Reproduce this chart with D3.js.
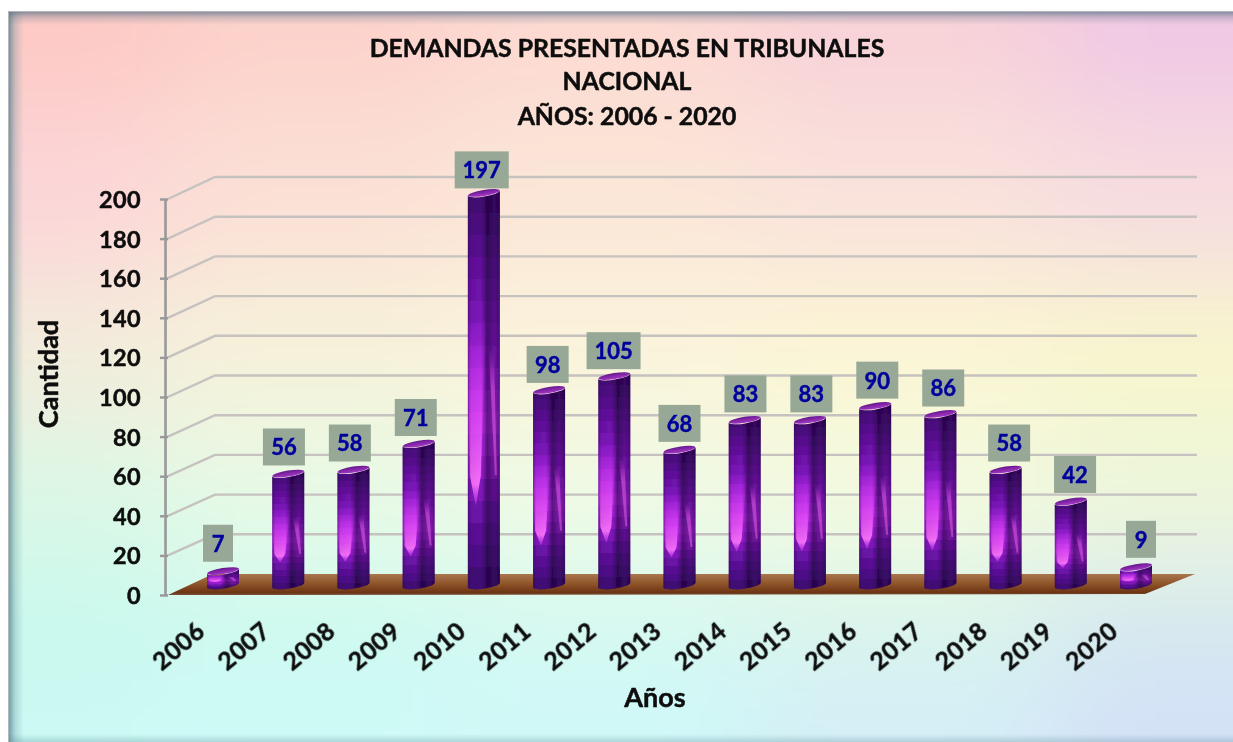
<!DOCTYPE html>
<html lang="es">
<head>
<meta charset="utf-8">
<title>Demandas presentadas en tribunales</title>
<script src="https://cdn.jsdelivr.net/npm/d3@7/dist/d3.min.js"></script>
<style>
html,body{margin:0;padding:0;background:#fff;overflow:hidden}
svg{display:block}
text{font-family:Lato,"Open Sans",sans-serif;font-weight:700;fill:#0a0a0a;stroke:#0a0a0a;stroke-width:.45px}
</style>
</head>
<body>
<div id="chart"></div>
<script>
// ---- data ----
const years = ["2006","2007","2008","2009","2010","2011","2012","2013","2014","2015","2016","2017","2018","2019","2020"];
const demandas = [7,56,58,71,197,98,105,68,83,83,90,86,58,42,9];
const yTicks = [0,20,40,60,80,100,120,140,160,180,200];
const titleLines = ["DEMANDAS PRESENTADAS EN TRIBUNALES","NACIONAL","AÑOS: 2006 -  2020"];
const yTitle = "Cantidad";
const xTitle = "Años";

// ---- style tables ----
const bgRows = [
  ["#fdc9c4","#fcd2cb","#fcd9d2","#f8d2d8","#f0c8e4"],
  ["#fcd6d8","#fbe0d6","#fbe6d8","#f9e2dc","#f6dce0"],
  ["#f2ecdc","#f6f2da","#fbf4dc","#fbf6d4","#f8f6cc"],
  ["#daf8e6","#e6fae6","#eefae4","#f2fae0","#ecf6dc"],
  ["#c8f9ee","#ccf9f0","#d4f9f2","#d8f4ec","#d4e8f0"],
  ["#ccf9f4","#cffaf8","#cff8f8","#d4eef8","#d4e0f8"]
];
const bandColors = ["#440a74","#4c0c80","#560e8e","#62109c","#6e12aa","#7a15b8","#8618c6","#941cd4","#a220e0","#b026ea","#bc2cf0","#ae24e4","#9a1ed2","#8018bc","#6a13a8","#5a1096","#4e0e88","#420b76"];

const W = 1233, H = 742;
const svg = d3.select("#chart").append("svg").attr("width",W).attr("height",H);
const defs = svg.append("defs");

// scales
const x = d3.scalePoint().domain(years).range([223,1136]);
const xLabel = d3.scalePoint().domain(years).range([218,1141]);
const yFront = d3.scaleLinear().domain([0,200]).range([595,199]);
const yBack = d3.scaleLinear().domain([0,200]).range([574,177]);
const yBar = d3.scaleLinear().domain([0,200]).range([585,187]);
const yLabel = d3.scaleLinear().domain([0,200]).range([557,164]);
const barR = 16, tilt = 2.6;

// background
defs.append("filter").attr("id","bgBlur").attr("x","-20%").attr("y","-20%").attr("width","140%").attr("height","140%")
  .append("feGaussianBlur").attr("stdDeviation",55);
defs.append("clipPath").attr("id","panel").append("rect").attr("x",8).attr("y",11).attr("width",W).attr("height",H);
const bgG = svg.append("g").attr("clip-path","url(#panel)").append("g").attr("filter","url(#bgBlur)");
const rowEdges = [-200,110,280,430,570,680,1000];
const colEdges = [-200,170,450,750,1050,1500];
bgRows.forEach((row,r)=>row.forEach((c,i)=>{
  bgG.append("rect").attr("x",colEdges[i]).attr("y",rowEdges[r])
    .attr("width",colEdges[i+1]-colEdges[i]+1).attr("height",rowEdges[r+1]-rowEdges[r]+1).attr("fill",c);
}));

// panel inner shadow
function lin(id,x2,y2,stops){
  const g = defs.append("linearGradient").attr("id",id).attr("x1",0).attr("y1",0).attr("x2",x2).attr("y2",y2);
  stops.forEach(s=>g.append("stop").attr("offset",s[0]).attr("stop-color",s[1]).attr("stop-opacity",s[2]===undefined?1:s[2]));
}
lin("shL",1,0,[[0,"#3a6f80",.72],[.45,"#5a8a96",.28],[1,"#6a9aa0",0]]);
lin("shT",0,1,[[0,"#4a6a80",.72],[.45,"#6a7a90",.3],[1,"#7a8a98",0]]);
lin("shB",0,1,[[0,"#5a8a9a",0],[1,"#5a8a9a",.3]]);
svg.append("rect").attr("x",8).attr("y",11).attr("width",16).attr("height",H-11).attr("fill","url(#shL)");
svg.append("rect").attr("x",8).attr("y",11).attr("width",W-8).attr("height",14).attr("fill","url(#shT)");
svg.append("rect").attr("x",8).attr("y",734).attr("width",W-8).attr("height",8).attr("fill","url(#shB)");
svg.append("path").attr("d",`M8.5,${H}V11.5H${W}`).attr("fill","none").attr("stroke","#b4b6bc").attr("stroke-width",1);

// soft filters that reproduce the resampled look of the source
function softFilter(id,sd){
  defs.append("filter").attr("id",id).attr("x","-5%").attr("y","-5%").attr("width","110%").attr("height","110%")
    .append("feGaussianBlur").attr("stdDeviation",sd);
}
softFilter("soft",0.65);
softFilter("softLine",0.6);
softFilter("softText",0.35);

// gridlines: side wall diagonal + back wall line
const backL = 215, backR = 1197, frontL = 168;
const grid = svg.append("g").attr("fill","none").attr("stroke","#c6c2c0").attr("stroke-width",2.4).attr("filter","url(#softLine)");
grid.selectAll("path").data(yTicks.filter(d=>d>0)).join("path")
  .attr("d",d=>`M${frontL},${yFront(d)}L${backL},${yBack(d)}H${backR}`);

// floor
lin("floor",0,1,[[0,"#a9764e"],[.5,"#8c5227"],[.88,"#6c3413"],[1,"#7a5038"]]);
svg.append("path").attr("fill","url(#floor)").attr("filter","url(#softLine)")
  .attr("d",`M${frontL},${yFront(0)}L${backL-2},${yBack(0)}H${backR-2}L1145,${yFront(0)-1}Z`);

// bar gradients
const bands = defs.append("linearGradient").attr("id","bands").attr("x1",0).attr("y1",0).attr("x2",0).attr("y2",1);
bandColors.forEach((c,i)=>{
  bands.append("stop").attr("offset",i/bandColors.length).attr("stop-color",c);
  bands.append("stop").attr("offset",(i+1)/bandColors.length).attr("stop-color",c);
});
lin("shade",1,0,[[0,"#1a0030",.34],[.1,"#1a0030",.06],[.4,"#1a0030",0],[.5,"#1a0030",.22],[.6,"#12002a",.56],[.82,"#12002a",.32],[1,"#12002a",.5]]);
lin("hiL",0,1,[[0,"#e848f8",0],[.5,"#ea50f8",.6],[.88,"#f870fb",1],[1,"#b030e4",.6]]);
lin("hiR",0,1,[[0,"#d848e8",0],[.3,"#d850e0",.6],[1,"#d860e0",.55]]);
lin("capFill",0,1,[[0,"#64188c"],[1,"#a838c8"]]);

const bodyPath = d=>{
  const c=x(d.year), t=yBar(d.value), b=yBar(0);
  return `M${c-barR},${t+tilt}L${c-barR},${b+tilt}A${barR},${tilt+1} -9 0 0 ${c+barR},${b-tilt}L${c+barR},${t-tilt}A${barR},${tilt+1} -9 0 1 ${c-barR},${t+tilt}Z`;
};
const rows = years.map((year,i)=>({year,value:demandas[i],i}));
rows.forEach(d=>defs.append("clipPath").attr("id","cl"+d.i).append("path").attr("d",bodyPath(d)));

const bars = svg.append("g").attr("filter","url(#soft)").selectAll("g").data(rows).join("g");
bars.append("path").attr("d",bodyPath).attr("fill","url(#bands)");
const at = (d,f)=>yBar(d.value)+(yBar(0)-yBar(d.value))*f;
bars.append("path").attr("clip-path",d=>`url(#cl${d.i})`).attr("fill","url(#hiL)")
  .attr("d",d=>{const c=x(d.year);return `M${c-16},${at(d,.32)}L${c+2},${at(d,.32)}L${c-3},${at(d,.72)}L${c-8},${at(d,.8)}L${c-14},${at(d,.72)}Z`;});
bars.append("path").attr("d",bodyPath).attr("fill","url(#shade)");
bars.append("path").attr("clip-path",d=>`url(#cl${d.i})`).attr("fill","url(#hiR)")
  .attr("d",d=>{const c=x(d.year);return `M${c+5},${at(d,.4)}L${c+10},${at(d,.4)}L${c+13},${at(d,.72)}L${c+11},${at(d,.72)}Z`;});
bars.append("ellipse").attr("cx",d=>x(d.year)).attr("cy",d=>yBar(d.value)).attr("rx",barR).attr("ry",tilt+.4)
  .attr("transform",d=>`rotate(-9 ${x(d.year)} ${yBar(d.value)})`).attr("fill","url(#capFill)");

// y axis
const yAxis = svg.append("g").attr("transform","translate(165,0)")
  .call(d3.axisLeft(yFront).tickValues(yTicks).tickSize(5).tickPadding(19).tickSizeOuter(0));
yAxis.select(".domain").attr("stroke","#999").attr("stroke-width",2.6);
yAxis.selectAll(".tick line").attr("stroke","#999").attr("stroke-width",2.4).attr("x1",3).attr("x2",-5);
yAxis.selectAll("text").attr("y",1).style("font-size","23.5px").style("letter-spacing","0.4px").attr("filter","url(#softText)");

// x axis
const xAxis = svg.append("g").attr("transform","translate(0,595)")
  .call(d3.axisBottom(x).tickSize(0).tickPadding(0));
xAxis.select(".domain").remove();
xAxis.selectAll(".tick line").remove();
xAxis.selectAll("text").attr("text-anchor","end").attr("dy",0).attr("y",0)
  .attr("transform","translate(-17,39) rotate(-40)").style("font-size","24.5px").style("letter-spacing","0.4px").attr("filter","url(#softText)");

// data labels
const lab = svg.append("g").selectAll("g").data(rows).join("g")
  .attr("transform",d=>`translate(${xLabel(d.year)},${yLabel(d.value)})`);
lab.append("rect").attr("x",d=>-(String(d.value).length*12+18)/2).attr("y",-18.5)
  .attr("width",d=>String(d.value).length*12+18).attr("height",37).attr("fill","#97a996");
lab.append("text").attr("text-anchor","middle").attr("dy","0.38em")
  .style("font-size","22px").style("fill","#00009c").style("stroke","#00009c").attr("filter","url(#softText)").text(d=>d.value);

// titles
const titleY = [57,90,125];
svg.append("g").selectAll("text").data(titleLines).join("text")
  .attr("x",627).attr("y",(d,i)=>titleY[i]).attr("text-anchor","middle").attr("filter","url(#softText)").style("font-size","24.8px").text(d=>d);
svg.append("text").attr("transform","translate(58,374) rotate(-90)").attr("text-anchor","middle").attr("filter","url(#softText)").style("font-size","27px").text(yTitle);
svg.append("text").attr("x",655).attr("y",707).attr("text-anchor","middle").attr("filter","url(#softText)").style("font-size","27px").text(xTitle);
</script>
</body>
</html>
